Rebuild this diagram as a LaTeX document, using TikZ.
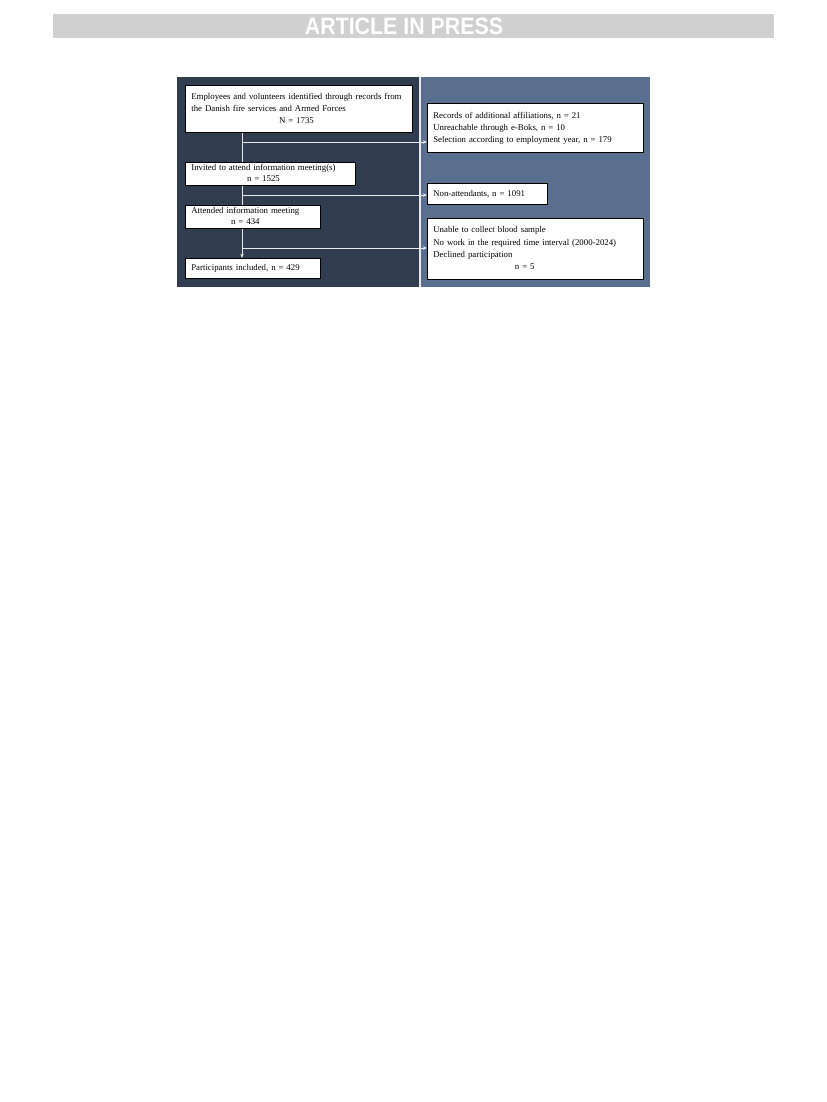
\documentclass[tikz,border=0pt]{standalone}
\usepackage{fontspec}
\setmainfont{Liberation Serif}
\newfontfamily\headfont{Liberation Sans}
\usetikzlibrary{arrows.meta}
\definecolor{leftbg}{HTML}{323C4F}
\definecolor{rightbg}{HTML}{5A6F8F}
\definecolor{headbg}{HTML}{D0D0D0}
\definecolor{linec}{HTML}{E8E8E8}
\def\px{0.75pt}
\tikzset{
  fbox/.style={draw=black, line width=0.5pt, fill=white, inner xsep=6*\px, inner ysep=0pt,
    anchor=north west, align=left, font=\fontsize{6.6pt}{9.2pt}\selectfont},
  tightbox/.style={fbox, font=\fontsize{6.6pt}{7.9pt}\selectfont},
  conn/.style={draw=linec, line width=0.6pt},
  arr/.style={conn, -{Stealth[length=3.2pt,width=2.6pt]}},
}
\begin{document}
\begin{tikzpicture}[x=0.75pt,y=-0.75pt]
\useasboundingbox (0,0) rectangle (827,1102);
% header
\fill[headbg] (53,14) rectangle (774,38);
\node[text=white, font=\headfont\bfseries\fontsize{17.8pt}{18pt}\selectfont, inner sep=0pt] (head) at (404,26.5) {\scalebox{0.9}[1]{ARTICLE IN PRESS}};
% panels
\fill[leftbg] (177,77) rectangle (420,287);
\fill[rightbg] (420,77) rectangle (650,287);
\draw[linec, line width=1.2pt] (420,77) -- (420,287);
% boxes
\node[fbox, minimum width=227*\px, minimum height=47*\px, text width=215*\px] (b1) at (185,85)
  {\begin{tabular}{@{}l@{}}Employees and volunteers identified through records from\\the Danish fire services and Armed Forces\\\multicolumn{1}{@{}c@{}}{N = 1735}\end{tabular}};
\node[fbox, minimum width=216*\px, minimum height=49*\px, text width=204*\px] (b2) at (427,103)
  {\begin{tabular}{@{}l@{}}Records of additional affiliations, n = 21\\Unreachable through e-Boks, n = 10\\Selection according to employment year, n = 179\end{tabular}};
\node[tightbox, minimum width=170*\px, minimum height=23*\px, text width=158*\px] (b3) at (185,162)
  {\begin{tabular}{@{}l@{}}Invited to attend information meeting(s)\\\multicolumn{1}{@{}c@{}}{n = 1525}\end{tabular}};
\node[fbox, minimum width=120*\px, minimum height=21*\px, text width=108*\px] (b4) at (427,183)
  {Non-attendants, n = 1091};
\node[tightbox, minimum width=135*\px, minimum height=23*\px, text width=123*\px] (b5) at (185,205)
  {\begin{tabular}{@{}l@{}}Attended information meeting\\\multicolumn{1}{@{}c@{}}{n = 434}\end{tabular}};
\node[fbox, minimum width=216*\px, minimum height=61*\px, text width=204*\px] (b6) at (427,218)
  {\begin{tabular}{@{}l@{}}Unable to collect blood sample\\No work in the required time interval (2000-2024)\\Declined participation\\\multicolumn{1}{@{}c@{}}{n = 5}\end{tabular}};
\node[fbox, minimum width=135*\px, minimum height=20*\px, text width=123*\px] (b7) at (185,258)
  {Participants included, n = 429};
% connectors
\coordinate (j1) at (242,142);
\coordinate (j2) at (242,195);
\coordinate (j3) at (242,248);
\draw[conn] (b1.south -| j1) -- (b3.north -| j1);
\draw[arr] (j1) -- (b2.west |- j1);
\draw[conn] (b3.south -| j2) -- (b5.north -| j2);
\draw[arr] (j2) -- (b4.west |- j2);
\draw[arr] (b5.south -| j3) -- (b7.north -| j3);
\draw[arr] (j3) -- (b6.west |- j3);
\end{tikzpicture}
\end{document}
